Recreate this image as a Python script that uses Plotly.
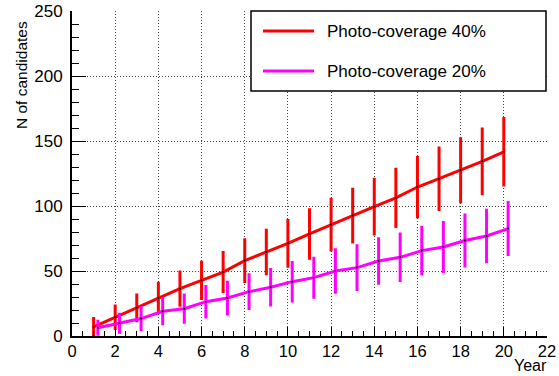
import plotly.graph_objects as go

# Years and candidate counts for the two photo-coverage scenarios
years_40 = [1, 2, 3, 4, 5, 6, 7, 8, 9, 10, 11, 12, 13, 14, 15, 16, 17, 18, 19, 20]
n_40 = [7, 14.4, 21.7, 29.2, 36.4, 42.8, 49.2, 58, 64.6, 71.3, 78.5, 85.7, 92.6, 99.5,
        106.2, 114.6, 121, 127.5, 134.4, 141.7]
err_40 = [6.5, 8.6, 9.9, 11.4, 12.8, 14, 15, 16, 16.8, 17.6, 18.6, 19.5, 20.2, 21,
          22, 22.8, 23.6, 24.2, 24.9, 25.6]

years_20 = [1.2, 2.2, 3.2, 4.2, 5.2, 6.2, 7.2, 8.2, 9.2, 10.2, 11.2, 12.2, 13.2, 14.2,
            15.2, 16.2, 17.2, 18.2, 19.2, 20.2]
n_20 = [6.3, 9.8, 13.4, 19, 21, 26.4, 29.2, 34.1, 37.5, 41.8, 44.9, 50, 52.6, 57.7,
        60.5, 65.7, 68.5, 73.4, 76.9, 82.6]
err_20 = [5, 7, 8.6, 9.6, 10.5, 11.7, 12.2, 13, 13.6, 14.8, 15, 16.3, 16.9, 17.1,
          17.9, 18, 18.8, 19.6, 19.8, 20]

series = [
    ("Photo-coverage 40%", years_40, n_40, err_40, "#ff0000"),
    ("Photo-coverage 20%", years_20, n_20, err_20, "#ff00ff"),
]

FONT = "Liberation Sans, Arial, sans-serif"

fig = go.Figure()
for name, xs, ys, es, col in series:
    fig.add_trace(go.Scatter(
        x=xs, y=ys, name=name, mode="lines+markers",
        line=dict(color=col, width=3),
        marker=dict(color="black", size=2),
        error_y=dict(type="data", array=es, visible=True, color=col,
                     thickness=3, width=1.5),
        showlegend=False,
    ))

# Plot-area geometry in pixels (used for the hand-drawn legend box)
W, H = 559, 376
L, R, T, B = 72, 12, 11, 40
pw, ph = W - L - R, H - T - B


def px_x(p):
    return (p - L) / pw


def px_y(p):
    return (H - B - p) / ph


shapes = [
    dict(type="rect", xref="paper", yref="paper",
         x0=px_x(251), x1=px_x(546), y0=px_y(91), y1=px_y(11),
         fillcolor="white", line=dict(color="black", width=1.5), layer="above"),
]
annotations = []
for (name, _, _, _, col), ly in zip(series, [31, 71]):
    shapes.append(dict(type="line", xref="paper", yref="paper",
                       x0=px_x(263), x1=px_x(314), y0=px_y(ly), y1=px_y(ly),
                       line=dict(color=col, width=3), layer="above"))
    annotations.append(dict(text=name, xref="paper", yref="paper",
                            x=px_x(325), y=px_y(ly), xanchor="left", yanchor="middle",
                            showarrow=False, font=dict(family=FONT, size=17, color="black")))

annotations.append(dict(text="Year", xref="paper", yref="paper", x=1, y=0,
                        xanchor="right", yanchor="bottom", xshift=2, yshift=-B,
                        showarrow=False, font=dict(family=FONT, size=16, color="black")))
annotations.append(dict(text="N of candidates", xref="paper", yref="paper", x=0, y=1,
                        xanchor="center", yanchor="top", xshift=-51, yshift=-8,
                        textangle=-90, showarrow=False,
                        font=dict(family=FONT, size=15.5, color="black")))

axis_common = dict(
    automargin=False,
    showline=True, linecolor="black", linewidth=2,
    ticks="inside", tickcolor="black", tickwidth=1,
    showgrid=True, gridcolor="#444444", griddash="1px,2px", gridwidth=1,
    zeroline=False,
)

fig.update_layout(
    width=W, height=H,
    margin=dict(l=L, r=R, t=T, b=B, autoexpand=False),
    paper_bgcolor="white", plot_bgcolor="white",
    xaxis=dict(range=[0, 22], dtick=2, tick0=0, ticklen=9,
               minor=dict(dtick=0.5, tick0=0, ticklen=5, ticks="inside",
                          tickcolor="black", tickwidth=1, showgrid=False),
               tickfont=dict(family=FONT, size=16.5, color="black"),
               ticklabelstandoff=-1, **axis_common),
    yaxis=dict(range=[0, 250], dtick=50, tick0=0, ticklen=14,
               minor=dict(dtick=10, tick0=0, ticklen=7, ticks="inside",
                          tickcolor="black", tickwidth=1, showgrid=False),
               tickfont=dict(family=FONT, size=17, color="black"),
               ticklabelstandoff=4, **axis_common),
    shapes=shapes,
    annotations=annotations,
)

fig.write_html("out.html")
